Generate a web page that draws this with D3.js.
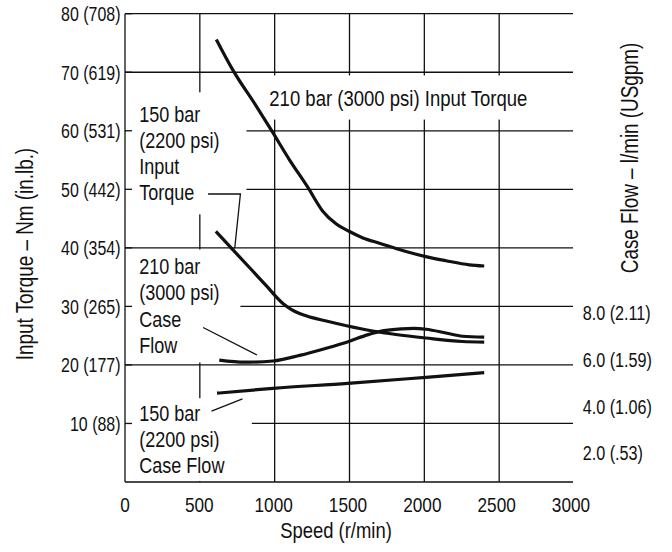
<!DOCTYPE html>
<html><head><meta charset="utf-8">
<script src="https://cdn.jsdelivr.net/npm/d3@7"></script>
<style>
body{margin:0;background:#fff}
svg{display:block}
text{font-family:"Liberation Sans",Arial,sans-serif;fill:#111}
</style></head><body>
<svg id="chart" width="672" height="552"></svg>
<script>
// ---- data ----
const speedTicks = [0, 500, 1000, 1500, 2000, 2500, 3000];
const torqueTicks = [80, 70, 60, 50, 40, 30, 20, 10];
const torqueTickLabels = ["80 (708)", "70 (619)", "60 (531)", "50 (442)", "40 (354)", "30 (265)", "20 (177)", "10 (88)"];
const flowTicks = [8, 6, 4, 2];
const flowTickLabels = ["8.0 (2.11)", "6.0 (1.59)", "4.0 (1.06)", "2.0 (.53)"];

// Input torque (Nm) vs speed (r/min)
const torque210 = [[610,75.6],[720,70.4],[880,64.1],[985,59.8],[1100,55.0],[1220,50.4],[1320,46.3],[1410,44.1],[1500,42.8],[1590,41.7],[1700,40.8],[1810,39.9],[2010,38.5],[2145,37.8],[2300,37.1],[2400,36.9]];
const torque150 = [[607,42.8],[720,39.7],[833,36.6],[945,33.5],[1055,30.5],[1110,29.5],[1210,28.4],[1345,27.5],[1480,26.7],[1655,25.8],[1810,25.2],[2010,24.6],[2255,24.0],[2400,23.9]];
// Case flow (l/min) vs speed
const flow210 = [[630,5.97],[800,5.88],[989,5.93],[1167,6.17],[1345,6.48],[1500,6.78],[1620,7.05],[1720,7.22],[1850,7.31],[1930,7.33],[2011,7.29],[2145,7.13],[2255,6.99],[2400,6.95]];
const flow150 = [[615,4.55],[989,4.76],[1489,4.97],[2011,5.23],[2400,5.43]];

// annotation labels (speed, torque) and leader lines (speed, torque)
const labelBlocks = [
  {lines:["150 bar","(2200 psi)","Input","Torque"], at:[95,61.5]},
  {lines:["210 bar","(3000 psi)","Case","Flow"], at:[95,35.5]},
  {lines:["150 bar","(2200 psi)","Case Flow"], at:[95,10.35]},
  {lines:["210 bar (3000 psi) Input Torque"], at:[964,64.2]}
];
const leaders = [
  [[555,49.2],[771,49.2],[733,39.9]],
  [[522,26.4],[882,21.7]],
  [[578,12.1],[785,14.2]]
];

// ---- layout ----
const svg = d3.select("#chart");
const x = d3.scaleLinear().domain([0, 3000]).range([125, 574]);
const y = d3.scaleLinear().domain([0, 80]).range([482, 13.7]);
const yR = d3.scaleLinear().domain([2, 8]).range([452.7, 312.7]);
const ink = "#111";

// narrow text: Liberation Sans squeezed horizontally
function txt(parent, px, py, str, size, sx, anchor, rot) {
  const g = parent.append("g")
    .attr("transform", `translate(${px},${py})` + (rot ? ` rotate(${rot})` : "") + ` scale(${sx},1)`);
  return g.append("text").attr("font-size", size).attr("text-anchor", anchor || "start").text(str);
}

const grid = svg.append("g").attr("stroke", ink).attr("stroke-width", 1.3);
grid.selectAll(".h").data(torqueTicks.concat([0])).join("line")
  .attr("x1", x(0)).attr("x2", x(3000) - 1)
  .attr("y1", d => y(d)).attr("y2", d => y(d));
grid.selectAll(".v").data(speedTicks.filter(d => d > 0 && d < 3000)).join("line")
  .attr("x1", d => x(d)).attr("x2", d => x(d))
  .attr("y1", y(80)).attr("y2", y(0));
grid.append("line").attr("x1", x(0)).attr("x2", x(0)).attr("y1", y(80)).attr("y2", y(0));

const pads = [
  {t:10, r:27, b:10, toAxis:true},
  {t:5, r:21, b:5, toAxis:true},
  {t:3.5, r:27, b:0, toAxis:true, toBottom:true},
  {t:10, r:8, b:9, l:8}
];
const lineH = [26, 26.3, 25.8, 26];
const sizes = [22, 22, 22, 22.6];
const maskG = svg.append("g");
const tickG = svg.append("g");
const curveG = svg.append("g");
const labelG = svg.append("g");

labelBlocks.forEach((b, i) => {
  let L = Infinity, R = -Infinity, T = Infinity, B = -Infinity;
  b.lines.forEach((s, j) => {
    const t = txt(labelG, x(b.at[0]), y(b.at[1]) + j * lineH[i], s, sizes[i], 0.82);
    const r = t.node().getBoundingClientRect();
    L = Math.min(L, r.left); R = Math.max(R, r.right);
    T = Math.min(T, r.top); B = Math.max(B, r.bottom);
  });
  const p = pads[i];
  const x0 = p.toAxis ? x(0) + 1 : L - p.l;
  const x1 = R + p.r;
  const y0 = T - p.t;
  const y1 = p.toBottom ? y(0) - 1 : B + p.b;
  maskG.append("rect").attr("x", x0).attr("y", y0).attr("width", x1 - x0).attr("height", y1 - y0).attr("fill", "#fff");
});

// left ticks
tickG.selectAll("line").data(torqueTicks).join("line")
  .attr("x1", x(0)).attr("x2", x(0) + 7)
  .attr("y1", d => y(d)).attr("y2", d => y(d))
  .attr("stroke", ink).attr("stroke-width", 1.3);

// curves
const lineT = d3.line().x(d => x(d[0])).y(d => y(d[1])).curve(d3.curveMonotoneX);
const lineF = d3.line().x(d => x(d[0])).y(d => yR(d[1])).curve(d3.curveMonotoneX);
[torque210, torque150].forEach(s => curveG.append("path").attr("d", lineT(s)).attr("fill", "none").attr("stroke", ink).attr("stroke-width", 3.2));
[flow210, flow150].forEach(s => curveG.append("path").attr("d", lineF(s)).attr("fill", "none").attr("stroke", ink).attr("stroke-width", 3.2));

// leaders
const lineL = d3.line().x(d => x(d[0])).y(d => y(d[1]));
leaders.forEach(l => curveG.append("path").attr("d", lineL(l)).attr("fill", "none").attr("stroke", ink).attr("stroke-width", 1.3));

// axis labels
const axG = svg.append("g");
torqueTicks.forEach((d, i) => txt(axG, x(0) - 4.5, y(d) + 7.5, torqueTickLabels[i], 21, 0.76, "end"));
flowTicks.forEach((d, i) => txt(axG, 582.7, yR(d) + 7.5, flowTickLabels[i], 21, 0.77, "start"));
speedTicks.forEach(d => txt(axG, x(d) - (d / 3000) * 3, 511.7, String(d), 21, 0.82, "middle"));
txt(axG, 336, 538, "Speed (r/min)", 22.5, 0.82, "middle");
txt(axG, 32.7, 254, "Input Torque – Nm (in.lb.)", 23, 0.82, "middle", -90);
txt(axG, 638, 158, "Case Flow – l/min (USgpm)", 23, 0.82, "middle", -90);
</script>
</body></html>
